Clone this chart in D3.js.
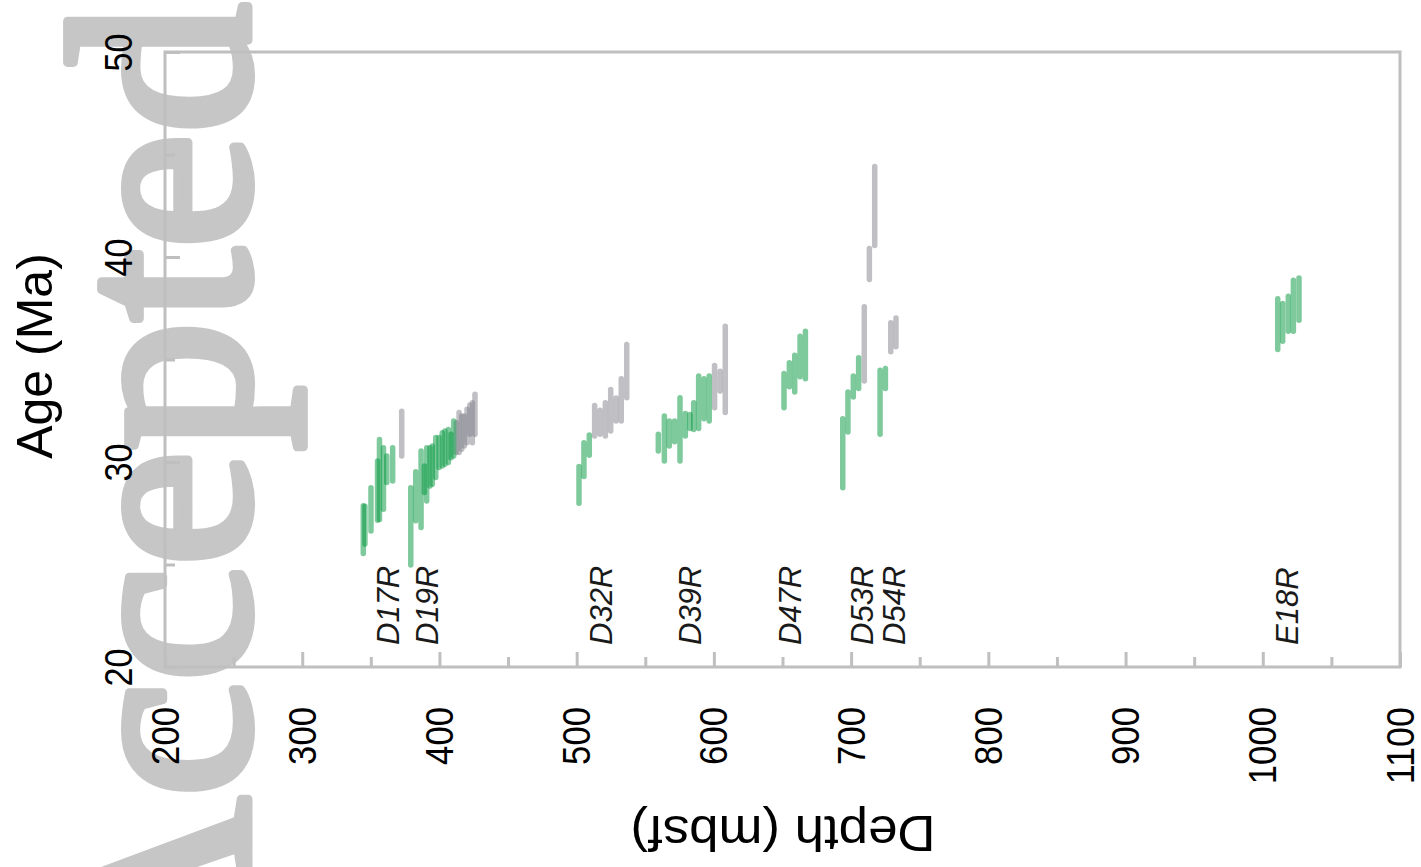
<!DOCTYPE html>
<html>
<head>
<meta charset="utf-8">
<script src="https://cdn.jsdelivr.net/npm/d3@7"></script>
<style>
  html, body { margin: 0; padding: 0; background: #ffffff; }
  svg { display: block; }
</style>
</head>
<body>
<svg id="chart" width="1421" height="867"></svg>
<script>
// ---------- DATA ----------
// each bar: [depth (mbsf), age min (Ma), age max (Ma)]
const greenBars = [
  // D17R
  [344.5, 25.54, 27.86], [345.7, 26.00, 27.84], [350.1, 26.64, 28.75], [354.9, 27.16, 30.05],
  [356.3, 27.20, 31.10], [359.2, 27.70, 30.70], [361.6, 29.00, 30.29], [365.9, 29.07, 30.70],
  // D19R
  [379.1, 24.98, 28.75], [382.7, 27.13, 29.53], [386.6, 26.80, 30.54], [389.0, 28.51, 29.80],
  [390.7, 28.10, 30.70], [393.1, 28.83, 30.70], [394.8, 28.91, 30.78], [397.3, 29.24, 31.19],
  [399.7, 29.73, 31.19], [402.1, 29.80, 31.43], [404.0, 29.89, 31.51], [406.5, 29.97, 31.59],
  [408.4, 30.21, 31.35], [410.4, 30.29, 32.00],
  // D32R
  [501.7, 27.99, 29.78], [505.3, 29.29, 30.94], [509.2, 30.33, 31.32],
  // D39R
  [559.5, 30.54, 31.35], [563.9, 30.05, 32.24], [567.5, 30.78, 32.00], [571.4, 30.99, 32.00],
  [575.3, 30.05, 33.14], [579.2, 31.27, 32.36], [582.6, 31.63, 32.32], [585.3, 31.59, 32.89],
  [588.9, 31.63, 34.19], [592.8, 32.11, 34.06], [596.6, 32.00, 34.19],
  // D47R
  [651.1, 32.65, 34.32], [655.0, 33.67, 34.84], [658.9, 33.41, 35.21], [662.8, 34.16, 36.14],
  [666.7, 34.06, 36.38],
  // D53R
  [693.9, 28.75, 32.11], [697.7, 31.46, 33.41], [701.6, 33.17, 34.19], [705.5, 33.58, 35.08],
  // D54R
  [721.1, 31.35, 34.47], [725.0, 33.58, 34.56],
  // E18R
  [1010.9, 35.49, 37.96], [1014.5, 35.89, 37.73], [1018.6, 36.38, 38.09], [1022.3, 36.38, 38.87],
  [1026.4, 36.92, 38.98]
];

const grayBars = [
  // D17R
  [372.5, 30.29, 32.48],
  // D19R
  [412.3, 30.46, 31.92], [414.3, 30.46, 32.41], [416.2, 30.62, 32.24], [418.1, 30.78, 32.24],
  [420.1, 30.94, 32.57], [422.1, 31.35, 32.78], [424.0, 30.94, 32.89], [425.9, 31.35, 33.30],
  // D32R
  [513.1, 31.27, 32.76], [517.0, 31.35, 32.52], [520.9, 31.27, 32.89], [524.8, 31.51, 33.54],
  [528.7, 32.00, 33.12], [532.5, 32.00, 34.06], [536.5, 33.14, 35.73],
  // D39R
  [600.5, 32.65, 34.71], [604.5, 33.46, 34.43], [608.3, 32.41, 36.62],
  // D53R
  [709.6, 33.95, 37.57], [713.3, 38.90, 40.41], [717.2, 40.56, 44.42],
  // D54R
  [728.9, 35.38, 36.79], [732.7, 35.62, 37.03]
];

const coreNames  = ["D17R", "D19R", "D32R", "D39R", "D47R", "D53R", "D54R", "E18R"];
const coreDepths = [362.5, 391, 518, 582.6, 655.5, 708, 731, 1018];

const xMajorTicks = [200, 300, 400, 500, 600, 700, 800, 900, 1000, 1100];
const xMinorTicks = [250, 350, 450, 550, 650, 750, 850, 950, 1050];
const yMajorTicks = [20, 30, 40, 50];
const yMinorTicks = [25, 35, 45];

const xTitle = "Depth (mbsf)";
const yTitle = "Age (Ma)";
const watermark = "Accepted";

// ---------- LAYOUT ----------
const L = 165, R = 1400, T = 52, B = 667;
const frameColor = "#bfbfbf";

const svg = d3.select("#chart");

const x = d3.scaleLinear().domain([200, 1100]).range([L, R]);
const y = d3.scaleLinear().domain([20, 50]).range([B, T]);

// watermark (behind)
svg.append("text")
  .attr("transform", "translate(248,985) rotate(-90)")
  .attr("font-family", "'Liberation Serif', 'Times New Roman', serif")
  .attr("font-size", 260)
  .attr("fill", "#c6c6c6")
  .attr("stroke", "#c6c6c6")
  .attr("stroke-width", 9)
  .attr("stroke-linejoin", "round")
  .text(watermark);

// frame
svg.append("rect")
  .attr("x", L).attr("y", T)
  .attr("width", R - L).attr("height", B - T)
  .attr("fill", "none")
  .attr("stroke", frameColor)
  .attr("stroke-width", 3);

// X axis (ticks inward)
const gxMinor = svg.append("g").attr("transform", `translate(0,${B})`)
  .call(d3.axisBottom(x).tickValues(xMinorTicks).tickSize(-10).tickSizeOuter(0).tickFormat(""));
const gx = svg.append("g").attr("transform", `translate(0,${B})`)
  .call(d3.axisBottom(x).tickValues(xMajorTicks).tickSize(-15).tickSizeOuter(0).tickFormat(d3.format("d")));

// Y axis
const gyMinor = svg.append("g").attr("transform", `translate(${L},0)`)
  .call(d3.axisLeft(y).tickValues(yMinorTicks).tickSize(-10).tickSizeOuter(0).tickFormat(""));
const gy = svg.append("g").attr("transform", `translate(${L},0)`)
  .call(d3.axisLeft(y).tickValues(yMajorTicks).tickSize(-15).tickSizeOuter(0).tickFormat(d3.format("d")));

[gxMinor, gx, gyMinor, gy].forEach(g => {
  g.select(".domain").remove();
  g.selectAll(".tick line").attr("stroke", frameColor).attr("stroke-width", 3);
});

gx.selectAll(".tick text")
  .attr("x", 0).attr("y", 0).attr("dy", null)
  .attr("text-anchor", "end")
  .attr("transform", "translate(13,40) rotate(-90)")
  .attr("font-family", "'Liberation Sans', Arial, sans-serif")
  .attr("font-size", 38)
  .attr("fill", "#000")
  .attr("textLength", d => String(d).length * 19.3)
  .attr("lengthAdjust", "spacingAndGlyphs");

gy.selectAll(".tick text")
  .attr("x", 0).attr("y", 0).attr("dy", null)
  .attr("text-anchor", "middle")
  .attr("transform", "translate(-33,0) rotate(-90)")
  .attr("font-family", "'Liberation Sans', Arial, sans-serif")
  .attr("font-size", 38)
  .attr("fill", "#000")
  .attr("textLength", 38)
  .attr("lengthAdjust", "spacingAndGlyphs");

// bars
function drawBars(data, color) {
  svg.append("g").selectAll("line").data(data).join("line")
    .attr("x1", d => x(d[0])).attr("x2", d => x(d[0]))
    .attr("y1", d => y(d[1])).attr("y2", d => y(d[2]))
    .attr("stroke", color)
    .attr("stroke-width", 5.5)
    .attr("stroke-linecap", "round");
}
drawBars(grayBars, "rgba(128,128,138,0.5)");
drawBars(greenBars, "rgba(0,150,60,0.5)");

// core labels
svg.append("g").selectAll("text").data(coreNames).join("text")
  .attr("transform", (d, i) => `translate(${x(coreDepths[i]) + 11},${B - 22}) rotate(-90)`)
  .attr("text-anchor", "start")
  .attr("font-family", "'Liberation Sans', Arial, sans-serif")
  .attr("font-style", "italic")
  .attr("font-size", 31)
  .attr("fill", "#1a1a1a")
  .text(d => d);

// axis titles
svg.append("text")
  .attr("transform", "translate(52,356) rotate(-90)")
  .attr("text-anchor", "middle")
  .attr("font-family", "'Liberation Sans', Arial, sans-serif")
  .attr("font-size", 50)
  .attr("fill", "#000")
  .text(yTitle);

svg.append("text")
  .attr("transform", "translate(783,816) rotate(180)")
  .attr("text-anchor", "middle")
  .attr("font-family", "'Liberation Sans', Arial, sans-serif")
  .attr("font-size", 50)
  .attr("fill", "#000")
  .attr("textLength", 305)
  .attr("lengthAdjust", "spacingAndGlyphs")
  .text(xTitle);
</script>
</body>
</html>
